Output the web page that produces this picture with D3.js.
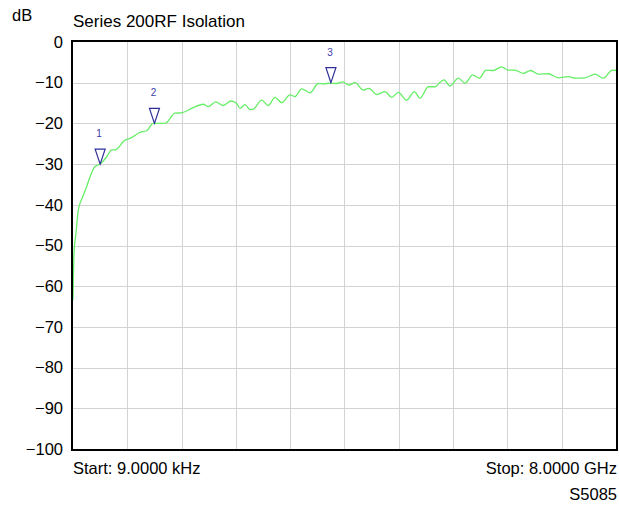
<!DOCTYPE html>
<html>
<head>
<meta charset="utf-8">
<script src="https://cdn.jsdelivr.net/npm/d3@7/dist/d3.min.js"></script>
<style>
  html, body { margin: 0; padding: 0; background: #ffffff; }
  svg { display: block; font-family: "Liberation Sans", Arial, sans-serif; }
</style>
</head>
<body>
<svg id="chart" width="619" height="505"></svg>
<script>
// ---- Data ----
const freqMHz = [0.009, 15, 44, 78, 143, 202, 261, 324, 398, 497, 570, 619, 766, 840, 987, 1086, 1183, 1355,
  1503, 1601, 1749, 1920, 1993, 2102, 2214, 2328, 2412, 2460, 2534, 2608, 2656, 2780, 2877, 2976, 3075,
  3197, 3271, 3369, 3492, 3614, 3688, 3786, 3885, 3974, 4066, 4155, 4277, 4361, 4474, 4597, 4695, 4793,
  4916, 5029, 5112, 5235, 5333, 5407, 5466, 5554, 5677, 5775, 5889, 5986, 6085, 6192, 6316, 6413, 6512,
  6634, 6743, 6855, 7003, 7150, 7297, 7396, 7543, 7691, 7813, 7946, 8000];
const isolationDb = [-63.4, -51.9, -47, -41.3, -38, -35.5, -32.7, -30.6, -30, -28.2, -26.5, -26.5, -24.1, -23.7, -22.2, -21.8, -20, -20,
  -17.5, -17.4, -16.3, -15.3, -15.9, -14.7, -15.6, -14.5, -15.1, -16.3, -15.4, -16.6, -16.5, -14.3, -15.6, -13.6, -14.9,
  -13, -13.4, -11.5, -12.5, -10.2, -10.3, -10.1, -10.2, -9.8, -10.6, -10.0, -11.8, -11.4, -12.9, -12.2, -13.6, -12.4,
  -14.3, -12.2, -13.8, -11.0, -11.0, -9.9, -9.3, -10.8, -8.9, -10.1, -8.1, -8.9, -6.9, -7.0, -6.1, -6.9, -6.9,
  -7.7, -7.0, -7.9, -7.8, -8.8, -8.5, -8.9, -8.8, -7.9, -8.9, -6.9, -7.0];

const markerLabels = ["1", "2", "3"];
const markerFreqMHz = [400, 1200, 3800];
const markerDb = [-30, -20, -10];

const yTicks = [0, -10, -20, -30, -40, -50, -60, -70, -80, -90, -100];
const xGridMHz = [800, 1600, 2400, 3200, 4000, 4800, 5600, 6400, 7200];

const titleText = "Series 200RF Isolation";
const unitText = "dB";
const startText = "Start: 9.0000 kHz";
const stopText = "Stop: 8.0000 GHz";
const footerText = "S5085";

// ---- Layout ----
const L = 73, R = 616, T = 42, B = 449;
const FS = 16.5;
const svg = d3.select("#chart");

const x = d3.scaleLinear().domain([0.009, 8000]).range([L, R]);
const y = d3.scaleLinear().domain([-100, 0]).range([B, T]);

// Grid
const grid = svg.append("g").attr("stroke", "#d3d3d3").attr("stroke-width", 1).attr("shape-rendering", "crispEdges");
grid.selectAll("line.v").data(xGridMHz).join("line")
  .attr("class", "v")
  .attr("x1", d => Math.round(x(d)) + 0.5).attr("x2", d => Math.round(x(d)) + 0.5)
  .attr("y1", T).attr("y2", B);
grid.selectAll("line.h").data(yTicks.slice(1, -1)).join("line")
  .attr("class", "h")
  .attr("y1", d => Math.round(y(d)) + 0.5).attr("y2", d => Math.round(y(d)) + 0.5)
  .attr("x1", L).attr("x2", R);

// Y axis labels via d3 axis
const yAxis = d3.axisLeft(y).tickValues(yTicks).tickSize(0).tickPadding(0).tickFormat(d3.format("d"));
const yg = svg.append("g").attr("transform", `translate(${L - 10},0)`).call(yAxis);
yg.select(".domain").remove();
yg.selectAll("text").attr("font-size", FS).attr("fill", "#000").attr("font-family", "Liberation Sans, Arial, sans-serif");

// Trace
const pts = freqMHz.map((f, i) => [f, isolationDb[i]]);
const line = d3.line().x(d => x(d[0])).y(d => y(d[1])).curve(d3.curveMonotoneX);
svg.append("defs").append("clipPath").attr("id", "clip")
  .append("rect").attr("x", L).attr("y", T).attr("width", R - L).attr("height", B - T);
svg.append("path").datum(pts)
  .attr("clip-path", "url(#clip)")
  .attr("d", line)
  .attr("fill", "none")
  .attr("stroke", "#66ee66")
  .attr("stroke-width", 1.3);

// Markers
const mk = svg.append("g");
markerLabels.forEach((lab, i) => {
  const mx = x(markerFreqMHz[i]), my = y(markerDb[i]);
  mk.append("path")
    .attr("d", `M${mx},${my} L${mx - 5},${my - 15} L${mx + 5},${my - 15} Z`)
    .attr("fill", "#ffffff").attr("fill-opacity", 0.6)
    .attr("stroke", "#2e2e9a").attr("stroke-width", 1.2);
  mk.append("text")
    .attr("x", mx - 1).attr("y", my - 27)
    .attr("text-anchor", "middle")
    .attr("font-size", 10)
    .attr("fill", "#3c3caa")
    .text(lab);
});

// Frame
svg.append("rect").attr("x", L - 1).attr("y", T - 1).attr("width", R - L + 2).attr("height", B - T + 2)
  .attr("fill", "none").attr("stroke", "#000").attr("stroke-width", 2);

// Texts
svg.append("text").attr("x", 12).attr("y", 21).attr("font-size", FS).attr("fill", "#000").text(unitText);
svg.append("text").attr("x", 73).attr("y", 27).attr("font-size", 17).attr("fill", "#000").text(titleText);
svg.append("text").attr("x", 73).attr("y", 474).attr("font-size", FS).attr("fill", "#000").text(startText);
svg.append("text").attr("x", 617).attr("y", 474).attr("font-size", FS).attr("text-anchor", "end").attr("fill", "#000").text(stopText);
svg.append("text").attr("x", 617).attr("y", 500).attr("font-size", FS).attr("text-anchor", "end").attr("fill", "#000").text(footerText);
</script>
</body>
</html>
